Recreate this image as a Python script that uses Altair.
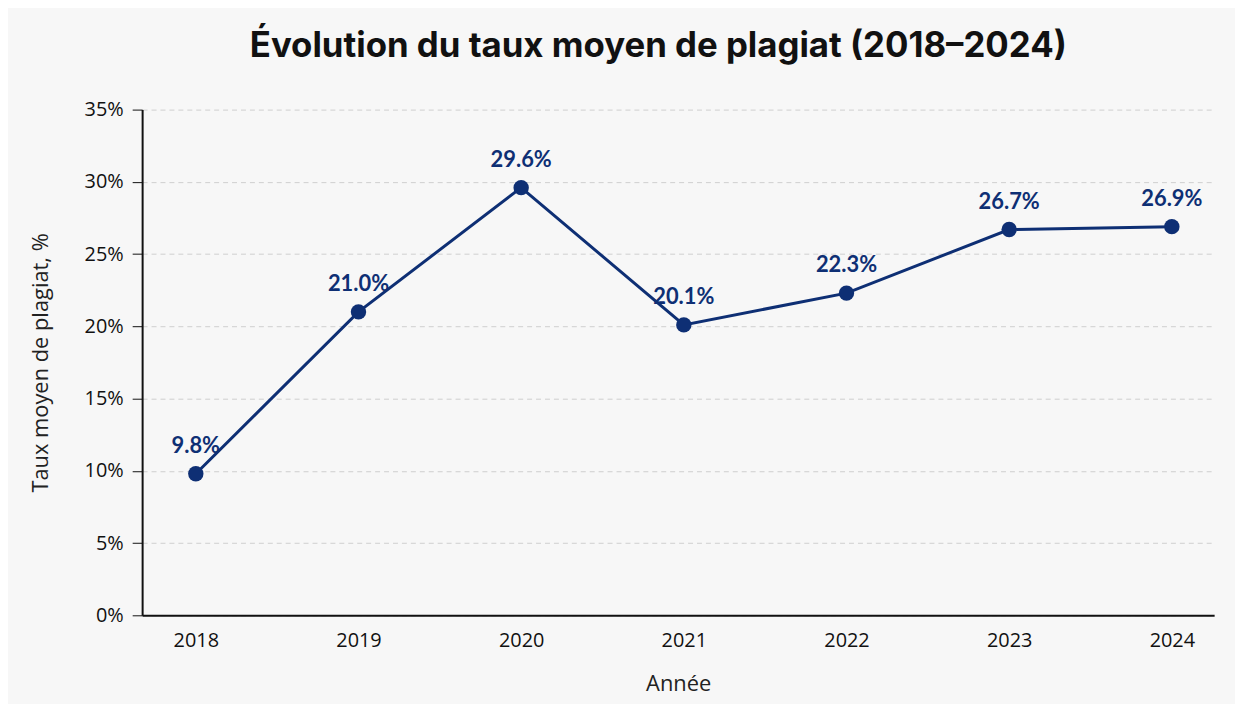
import altair as alt
import pandas as pd

years = [2018, 2019, 2020, 2021, 2022, 2023, 2024]
rates = [9.8, 21.0, 29.6, 20.1, 22.3, 26.7, 26.9]
labels = ["9.8%", "21.0%", "29.6%", "20.1%", "22.3%", "26.7%", "26.9%"]

df = pd.DataFrame({"year": years, "rate": rates, "label": labels})

NAVY = "#0e2f74"
FONT = "Lato"
AXF = "Open Sans"

x = alt.X("year:Q", title="Année",
          scale=alt.Scale(domain=[2017.67, 2024.26], nice=False, zero=False),
          axis=alt.Axis(values=years, format="d", ticks=False, labelPadding=15,
                        domainColor="#111", domainWidth=2, labelFontSize=20, labelColor="#111",
                        titleFontSize=22, titleFontWeight="normal", titleColor="#222",
                        titlePadding=24, grid=False, labelFont=AXF, titleFont=AXF))
y = alt.Y("rate:Q", title="Taux moyen de plagiat, %",
          scale=alt.Scale(domain=[0, 35], nice=False),
          axis=alt.Axis(values=[0, 5, 10, 15, 20, 25, 30, 35],
                        labelExpr="datum.value + '%'",
                        tickSize=10, tickColor="#111", domainColor="#111", domainWidth=2,
                        labelFontSize=20, labelColor="#111", labelPadding=9,
                        gridDash=[5, 4], gridColor="#cfcfcf", gridWidth=1,
                        titleFontSize=22, titleFontWeight="normal", titleColor="#222",
                        titlePadding=32, labelFont=AXF, titleFont=AXF))

base = alt.Chart(df)
line = base.mark_line(color=NAVY, strokeWidth=3).encode(x=x, y=y)
pts = base.mark_circle(color=NAVY, size=240, opacity=1).encode(x=x, y=y)
txt = base.mark_text(color=NAVY, fontSize=22, fontWeight="bold", font=FONT, dy=-28).encode(
    x=x, y=y, text="label:N")

chart = (line + pts + txt).properties(
    width=1079, height=509,
    autosize=alt.AutoSizeParams(type="none"),
    padding={"left": 135, "top": 100, "right": 21, "bottom": 87},
    background="#f7f7f7",
    title=alt.TitleParams("Évolution du taux moyen de plagiat (2018–2024)", fontSize=35,
                          font="Inter", fontWeight="bold", color="#111", anchor="middle",
                          offset=36, dx=-20),
).configure_view(stroke=None)

chart.save("out.html", embed_options={"renderer": "svg", "actions": False})
